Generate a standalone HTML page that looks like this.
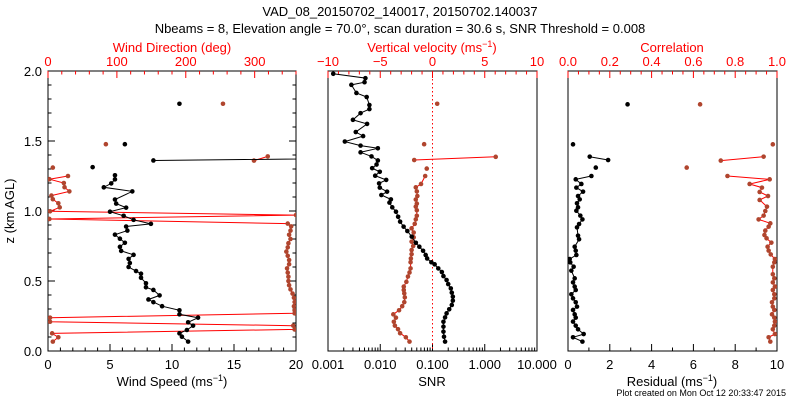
<!DOCTYPE html>
<html><head><meta charset="utf-8"><style>
html,body{margin:0;padding:0;background:#fff;}
svg{display:block;font-family:"Liberation Sans",sans-serif;}
</style></head><body>
<svg id="chart" width="800" height="400" viewBox="0 0 800 400">
<text x="400" y="16" font-size="13" text-anchor="middle">VAD_08_20150702_140017, 20150702.140037</text>
<text x="400" y="33" font-size="13" text-anchor="middle">Nbeams = 8, Elevation angle = 70.0°, scan duration = 30.6 s, SNR Threshold = 0.008</text>
<text x="786" y="396" font-size="9" text-anchor="end">Plot created on Mon Oct 12 20:33:47 2015</text>
<text transform="translate(14,211) rotate(-90)" font-size="13" text-anchor="middle">z (km AGL)</text>
<g id="g"></g>
</svg>
<script>
// ---- data ----
const wsZ=[0.067,0.102,0.126,0.150,0.181,0.205,0.238,0.262,0.291,0.320,0.349,0.368,0.397,0.436,0.455,0.484,0.523,0.552,0.571,0.600,0.629,0.658,0.687,0.715,0.744,0.773,0.802,0.831,0.860,0.889,0.908,0.937,0.966,0.995,1.024,1.053,1.082,1.140,1.169,1.197,1.226,1.255,1.28,1.313,1.34,1.361,1.39,1.42,1.477,1.6,1.766];
const wsVal=[11.3,10.8,10.6,11.2,11.7,11.3,12.1,10.6,10.6,9.2,8.5,8.1,9.0,8.5,7.9,7.9,7.5,7.5,7.1,6.5,6.6,6.5,6.9,5.9,5.8,6.2,5.8,5.4,6.4,6.3,8.3,6.9,6.1,5.0,6.3,5.5,5.4,6.8,4.5,5.1,5.4,5.4,null,3.6,null,8.5,40,null,6.2,null,10.6];
const wdZ=[0.067,0.098,0.126,0.154,0.181,0.209,0.238,0.269,0.29,0.32,0.35,0.38,0.41,0.44,0.47,0.50,0.53,0.56,0.59,0.62,0.65,0.68,0.71,0.74,0.77,0.80,0.83,0.86,0.89,0.91,0.943,0.971,0.998,1.026,1.055,1.084,1.11,1.14,1.17,1.20,1.227,1.25,1.28,1.31,1.34,1.36,1.39,1.42,1.477,1.6,1.766];
const wdVal=[7,15,6,358,356,3,3,358,358,357,358,357,355,352,350,349,349,348,347,350,350,348,346,348,349,352,350,352,353,348,2,360,3,17,15,7,5,31,24,23,2,29,null,7,null,299,319,null,84,null,254];
const snrZ=[0.067,0.102,0.138,0.174,0.209,0.240,0.269,0.298,0.329,0.360,0.388,0.417,0.447,0.478,0.507,0.535,0.564,0.590,0.619,0.634,0.661,0.686,0.716,0.745,0.773,0.817,0.857,0.888,0.924,0.959,0.995,1.026,1.060,1.083,1.114,1.138,1.167,1.197,1.222,1.252,1.280,1.306,1.332,1.361,1.390,1.419,1.448,1.467,1.496,1.535,1.564,1.622,1.651,1.699,1.728,1.757,1.814,1.843,1.901,1.920,1.949,1.98];
const snrVal=[0.174,0.166,0.162,0.162,0.162,0.174,0.186,0.209,0.234,0.245,0.245,0.234,0.224,0.2,0.186,0.162,0.151,0.129,0.11,0.095,0.079,0.074,0.066,0.056,0.048,0.04,0.033,0.028,0.024,0.022,0.02,0.017,0.015,0.016,0.0105,0.0135,0.0098,0.0095,0.013,0.008,0.0098,0.007,0.0085,0.009,0.0068,0.0042,0.009,0.0042,0.0021,0.0047,0.0034,0.0056,0.003,0.0042,0.0062,0.0062,0.0055,0.0035,0.0028,0.005,0.0052,0.00126];
const vvZ=[0.067,0.098,0.127,0.156,0.181,0.209,0.238,0.262,0.291,0.320,0.349,0.383,0.412,0.436,0.460,0.494,0.532,0.561,0.590,0.634,0.661,0.692,0.721,0.750,0.781,0.812,0.846,0.876,0.908,0.940,0.966,1.005,1.031,1.053,1.082,1.107,1.140,1.169,1.193,1.250,1.28,1.303,1.33,1.364,1.387,1.42,1.477,1.6,1.766];
const vvVal=[-2.2,-2.55,-3.1,-3.3,-3.6,-3.7,-3.5,-3.75,-3.2,-2.9,-2.7,-2.65,-2.7,-2.75,-2.75,-2.5,-2.35,-2.2,-2.1,-2.1,-2.07,-2.0,-2.0,-1.85,-2.0,-1.8,-1.8,-2.0,-1.7,-1.6,-1.5,-1.5,-1.6,-1.5,-1.6,-1.45,-1.5,-1.6,-1.1,-0.7,null,-0.55,null,-1.75,6.05,null,-0.8,null,0.45];
const resZ=[0.067,0.098,0.121,0.155,0.181,0.210,0.238,0.262,0.293,0.317,0.348,0.376,0.405,0.436,0.460,0.490,0.519,0.574,0.602,0.633,0.657,0.686,0.717,0.745,0.798,0.824,0.883,0.907,0.940,0.967,1.002,1.026,1.055,1.083,1.107,1.138,1.167,1.193,1.226,1.250,1.28,1.310,1.33,1.364,1.388,1.42,1.476,1.6,1.762];
const resVal=[0.69,0.24,0.75,0.48,0.37,0.24,0.37,0.32,0.24,0.43,0.37,0.24,0.16,0.37,0.32,0.24,0.32,0.16,0.27,0.11,0.08,0.40,0.37,0.32,0.53,0.48,0.43,0.53,0.69,0.59,0.40,0.48,0.43,0.56,0.48,0.72,0.40,0.64,0.37,1.12,null,1.33,null,1.92,1.04,null,0.24,null,2.85];
const corZ=[0.067,0.098,0.121,0.155,0.181,0.210,0.238,0.262,0.293,0.317,0.348,0.376,0.405,0.436,0.460,0.490,0.519,0.548,0.602,0.633,0.657,0.690,0.717,0.745,0.774,0.805,0.829,0.860,0.888,0.912,0.940,0.967,1.0,1.031,1.079,1.107,1.136,1.167,1.193,1.226,1.250,1.28,1.310,1.33,1.360,1.388,1.42,1.476,1.6,1.762];
const corVal=[0.968,0.96,0.99,0.98,0.987,0.99,0.987,0.976,0.987,0.98,0.976,0.987,0.987,0.98,0.99,0.98,0.987,0.98,0.98,0.987,0.99,0.97,0.96,0.955,0.973,0.95,0.94,0.944,0.96,0.968,0.912,0.936,0.944,0.952,0.917,0.957,0.917,0.928,0.869,0.965,0.763,null,0.568,null,0.731,0.936,null,0.98,null,0.632];
const wsTicks=[0,5,10,15,20], wdTicks=[0,100,200,300], zTicks=["0.0","0.5","1.0","1.5","2.0"];
const snrTicks=["0.001","0.010","0.100","1.000","10.000"], vvTicks=[-10,-5,0,5,10];
const resTicks=[0,2,4,6,8,10], corTicks=["0.0","0.2","0.4","0.6","0.8","1.0"];

const NS="http://www.w3.org/2000/svg", G=document.getElementById('g');
const BROWN="#b0452e", RED="#ff0000";
const Y0=71,Y1=351;
function yz(z){return Y1-(z/2)*(Y1-Y0);}
function lin(a,b,p0,p1){return v=>p0+(v-a)/(b-a)*(p1-p0);}
function logs(a,b,p0,p1){return v=>p0+(Math.log10(v)-Math.log10(a))/(Math.log10(b)-Math.log10(a))*(p1-p0);}
function el(tag,attrs,parent){const e=document.createElementNS(NS,tag);for(const k in attrs)e.setAttribute(k,attrs[k]);(parent||G).appendChild(e);return e;}

const panels=[
 {name:'wind',x0:48,x1:296},{name:'snr',x0:328,x1:537},{name:'residual',x0:568,x1:777}];
panels.forEach((p,i)=>{
  const cp=el('clipPath',{id:'clip'+i});
  el('rect',{x:p.x0,y:Y0,width:p.x1-p.x0,height:Y1-Y0},cp);
  const b=el('rect',{x:p.x0,y:Y0,width:p.x1-p.x0,height:Y1-Y0,fill:'none',stroke:'#000','stroke-width':1});
  
  
});

function tick(x1,y1,x2,y2,c){el('line',{x1,y1,x2,y2,stroke:c,'stroke-width':1});}
function label(x,y,t,c,anchor,name,size){const e=el('text',{x,y,fill:c,'font-size':size||13,'text-anchor':anchor||'middle'});e.textContent=t;
  
  return e;}

// y axis (panel 1)
for(let k=0;k<=20;k++){const y=yz(k*0.1),L=(k%5==0)?7:3.5;tick(48,y,48+L,y,'#000');tick(296,y,296-L,y,'#000');}
zTicks.forEach(t=>label(42,yz(+t)+5,t,'#000','end','y-tick-label'));

// panel scales
const xWS=lin(0,20,48,296), xWD=lin(0,360,48,296);
const xSNR=logs(0.001,10,328,537), xVV=lin(-10,10,328,537);
const xRES=lin(0,10,568,777), xCOR=lin(0,1,568,777);

// bottom ticks
for(let v=0;v<=20;v++){const x=xWS(v),L=v%5==0?7:3.5;tick(x,Y1,x,Y1-L,'#000');}
wsTicks.forEach(v=>label(xWS(v),369,String(v),'#000','middle','wind-speed-tick-label'));
for(let d=-3;d<=1;d++){for(let m=1;m<=9;m++){const v=m*Math.pow(10,d);if(v>10)break;const x=xSNR(v);tick(x,Y1,x,Y1-(m==1?7:3.5),'#000');}}
tick(xSNR(10),Y1,xSNR(10),Y1-7,'#000');
snrTicks.forEach(t=>label(xSNR(+t),369,t,'#000','middle','snr-tick-label'));
for(let v=0;v<=10;v++){const x=xRES(v),L=v%2==0?7:3.5;tick(x,Y1,x,Y1-L,'#000');}
resTicks.forEach(v=>label(xRES(v),369,String(v),'#000','middle','residual-tick-label'));

// top ticks (red)
for(let v=0;v<=360;v+=20){const x=xWD(v),L=v%100==0?7:3.5;tick(x,Y0,x,Y0+L,RED);}
wdTicks.forEach(v=>label(xWD(v),66,String(v),RED,'middle','wind-direction-tick-label'));
for(let v=-10;v<=10;v++){const x=xVV(v),L=v%5==0?7:3.5;tick(x,Y0,x,Y0+L,RED);}
vvTicks.forEach(v=>label(xVV(v),66,v<0?'\u2212'+(-v):String(v),RED,'middle','vertical-velocity-tick-label'));
for(let k=0;k<=20;k++){const x=xCOR(k*0.05),L=k%4==0?7:3.5;tick(x,Y0,x,Y0+L,RED);}
corTicks.forEach(t=>label(xCOR(+t),66,t,RED,'middle','correlation-tick-label'));

// axis titles
function title(x,y,html,c,name){const e=el('text',{x,y,fill:c,'font-size':13,'text-anchor':'middle'});e.innerHTML=html;
  
  }
title(172,386,'Wind Speed (ms<tspan dy="-5" font-size="9">\u22121</tspan><tspan dy="5">)</tspan>','#000','wind-speed-axis-title');
title(432,386,'SNR','#000','snr-axis-title');
title(672,386,'Residual (ms<tspan dy="-5" font-size="9">\u22121</tspan><tspan dy="5">)</tspan>','#000','residual-axis-title');
title(172,52,'Wind Direction (deg)',RED,'wind-direction-axis-title');
title(432,52,'Vertical velocity (ms<tspan dy="-5" font-size="9">\u22121</tspan><tspan dy="5">)</tspan>',RED,'vertical-velocity-axis-title');
title(672,52,'Correlation',RED,'correlation-axis-title');

// zero line
const zl=el('line',{x1:xVV(0),y1:Y0,x2:xVV(0),y2:Y1,stroke:RED,'stroke-width':1,'stroke-dasharray':'1.5,2.5'});



function series(zs,vals,sx,lineC,ptC,clip,name){
  const g=el('g',{'clip-path':'url(#'+clip+')'});
  
  
  let d='',pen=false;
  zs.forEach((z,i)=>{const v=vals[i];if(v==null){pen=false;return;}const x=sx(v),y=yz(z);d+=(pen?'L':'M')+x.toFixed(1)+' '+y.toFixed(1);pen=true;});
  const p=el('path',{d,fill:'none',stroke:lineC,'stroke-width':1},g);
  
  
  zs.forEach((z,i)=>{const v=vals[i];if(v==null)return;
    const c=el('circle',{cx:sx(v),cy:yz(z),r:2.3,fill:ptC},g);
    
    });
}
series(wdZ,wdVal,xWD,RED,BROWN,'clip0','wind-direction-series');
series(wsZ,wsVal,xWS,'#000','#000','clip0','wind-speed-series');
series(vvZ,vvVal,xVV,RED,BROWN,'clip1','vertical-velocity-series');
series(snrZ,snrVal,xSNR,'#000','#000','clip1','snr-series');
series(corZ,corVal,xCOR,RED,BROWN,'clip2','correlation-series');
series(resZ,resVal,xRES,'#000','#000','clip2','residual-series');
</script>
</body></html>
